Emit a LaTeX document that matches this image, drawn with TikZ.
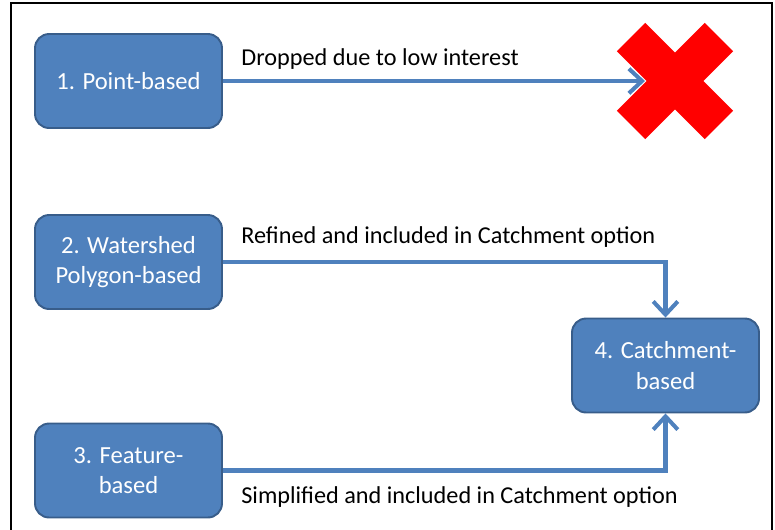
\documentclass[tikz,border=0pt]{standalone}
\usepackage{fontspec}
\setmainfont{Carlito}
\usetikzlibrary{arrows.meta,shapes.misc}
\definecolor{optblue}{HTML}{4F81BD}
\definecolor{optedge}{HTML}{385D8A}

\begin{document}
\begin{tikzpicture}[x=0.02cm,y=-0.02cm,
  option/.style={draw=optedge,line width=1.1pt,fill=optblue,rounded corners=8pt,
    minimum width=3.74cm,minimum height=1.88cm,align=center,text=white,
    font=\fontsize{14}{17.5}\selectfont},
  flow/.style={draw=optblue,line width=2.3pt,-{Straight Barb[length=7.5pt,width=14pt]}},
  note/.style={anchor=base west,inner sep=0pt,font=\fontsize{13.8}{16}\selectfont}]
  \useasboundingbox (0,0) rectangle (775,529);
  \clip (0,0) rectangle (775,529);
  \draw[line width=1.1pt] (11,3) rectangle (772,560);

  \node[option] (point) at (128.5,81) {1. Point-based};
  \node[option] (water) at (128.5,262) {2. Watershed\\Polygon-based};
  \node[option] (feature) at (128.5,470.5) {3. Feature-\\based};
  \node[option] (catch) at (665.5,365.5) {4. Catchment-\\based};
  \node[draw=red,cross out,line width=0.8cm,minimum size=1.76cm,inner sep=0pt,outer sep=0pt] (drop) at (675,81) {};

  \draw[flow,shorten >=0.6cm] (point.east) -- (drop.center);
  \draw[flow] (water.east) -| (catch.north);
  \draw[flow] (feature.east) -| (catch.south);

  \node[note] (droplbl) at (241,65) {Dropped due to low interest};
  \node[note] (refinelbl) at (241,243) {Refined and included in Catchment option};
  \node[note] (simplelbl) at (241,503) {Simplified and included in Catchment option};

\end{tikzpicture}
\end{document}
